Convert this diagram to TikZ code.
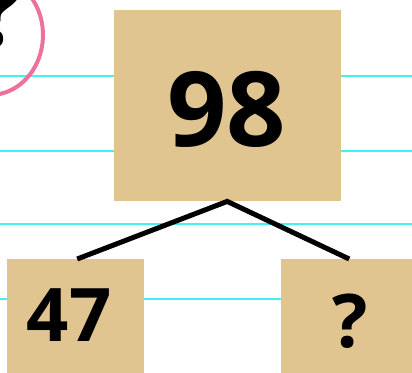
\documentclass[tikz,border=0pt]{standalone}
\usepackage{fontspec}
\setmainfont{Open Sans}
\definecolor{boxtan}{RGB}{224,197,145}
\definecolor{rulecyan}{RGB}{64,242,242}
\definecolor{circpink}{RGB}{236,114,156}
\tikzset{
  numbox/.style={fill=boxtan, draw=none, inner sep=0pt, anchor=north west},
  ruleline/.style={rulecyan, line width=2pt},
  branch/.style={black, line width=5pt, line join=miter},
  numtext/.style={font=\fontsize{74}{80}\selectfont\bfseries, inner sep=0pt},
}
\begin{document}
\begin{tikzpicture}[x=1pt,y=-1pt]
\useasboundingbox (0,0) rectangle (412,372);
\fill[white] (0,0) rectangle (412,372);
% ruled lines
\foreach \yy in {75.5,150.5,224,299}
  \draw[ruleline] (0,\yy) -- (412,\yy);
% problem number with hand-drawn circle
\node[font=\fontsize{104}{110}\selectfont\bfseries, anchor=base east, inner sep=0pt] (num) at (23,46) {?};
\draw[circpink, line width=4pt, line cap=round] (-10,35) ++(-42:53 and 60)
  arc[start angle=-42, end angle=100, x radius=53, y radius=60];
% boxes
\node[numbox, minimum width=227pt, minimum height=191pt] (top) at (114,10) {};
\node[numbox, minimum width=137pt, minimum height=115pt] (left) at (7,259) {};
\node[numbox, minimum width=131pt, minimum height=115pt] (right) at (281,259) {};
% texts
\node[font=\fontsize{104}{110}\selectfont\bfseries, inner sep=0pt] (t98) at (226.5,109.5) {98};
\node[numtext] (t47) at (69,315) {47};
\node[numtext] (tq) at (350,321) {?};
% connectors
\coordinate (apex) at ([xshift=-0.5pt]top.south);
\coordinate (lend) at ([xshift=1.5pt]left.north);
\coordinate (rend) at ([xshift=2.5pt]right.north);
\draw[branch] (lend) -- (apex) -- (rend);
\end{tikzpicture}
\end{document}
